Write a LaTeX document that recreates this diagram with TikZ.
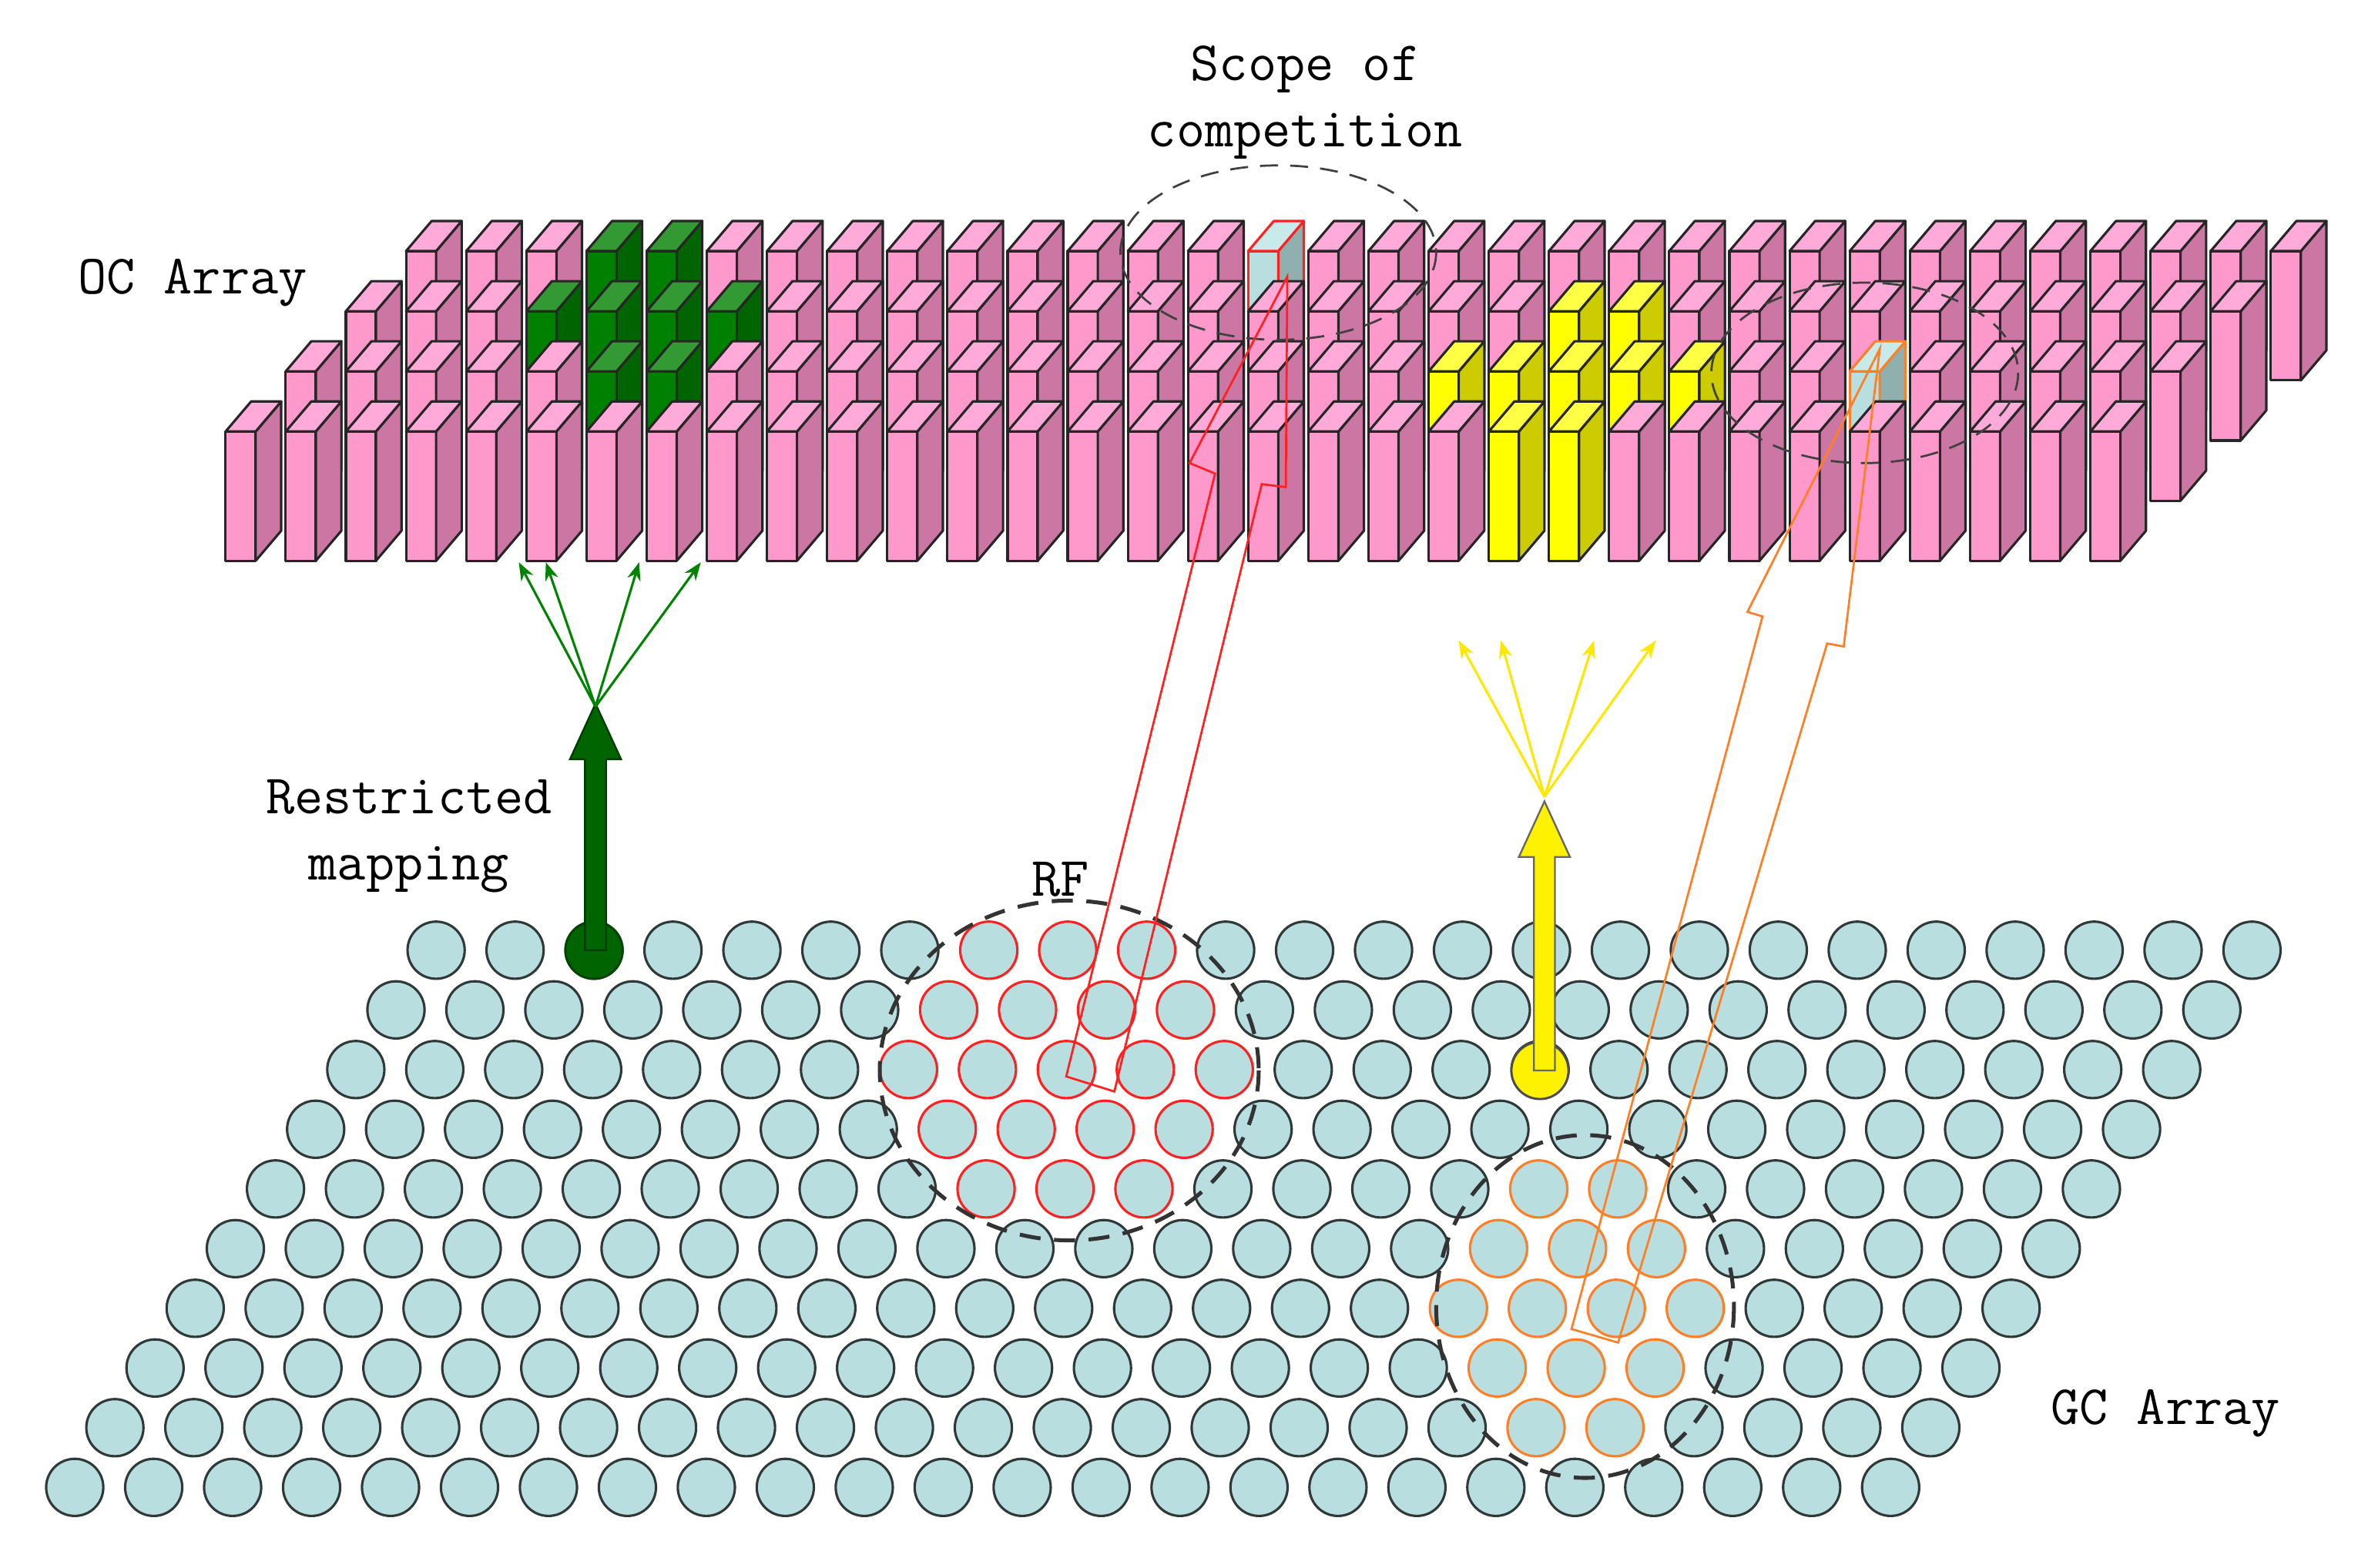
\documentclass[tikz,border=0pt]{standalone}
\usetikzlibrary{arrows.meta}
\definecolor{pkF}{HTML}{FF99CC}\definecolor{pkS}{HTML}{CC77A3}\definecolor{pkT}{HTML}{FFAAD8}
\definecolor{gnF}{HTML}{008000}\definecolor{gnS}{HTML}{006400}\definecolor{gnT}{HTML}{339933}
\definecolor{ylF}{HTML}{FFFF00}\definecolor{ylS}{HTML}{CCCC00}\definecolor{ylT}{HTML}{FFFF44}
\definecolor{blF}{HTML}{B8DEE0}\definecolor{blS}{HTML}{90B0B0}\definecolor{blT}{HTML}{C8EAEA}
\definecolor{cellC}{HTML}{B8DEE0}\definecolor{cellE}{HTML}{303838}
\definecolor{rfR}{HTML}{FF2020}\definecolor{rfO}{HTML}{FF7F27}
\definecolor{dgreen}{HTML}{006400}
\tikzset{
 lbl/.style={font=\ttfamily\fontsize{37}{44}\selectfont, align=center, inner sep=0pt},
 cell/.style={fill=cellC, draw=cellE, line width=1.6pt},
 scope/.style={draw=black!80, dashed, dash pattern=on 14pt off 9pt, line width=2.6pt},
 thinscope/.style={draw=black!75, dash pattern=on 12pt off 8pt, line width=1.4pt},
}
\begin{document}
\begin{tikzpicture}[x=1pt,y=-1pt]
\useasboundingbox (0,0) rectangle (1568,1042.5);
% GC array
\foreach \k in {0,...,9}{
 \foreach \j in {0,...,23}{
  \pgfmathsetmacro\cx{290-26.7*\k+52.5*\j}
  \pgfmathsetmacro\cy{632+39.7*\k}
  \pgfmathsetmacro\dr{veclen(\cx-709.1,\cy-711.4)}
  \pgfmathsetmacro\dor{veclen(\cx-1048.5,\cy-870.2)}
  \pgfmathtruncatemacro\kind{\dr<110 ? 1 : (\dor<90 ? 2 : 0)}
  \ifcase\kind
   \draw[cell] (\cx,\cy) circle (19);
  \or
   \draw[cell,draw=rfR] (\cx,\cy) circle (19);
  \or
   \draw[cell,draw=rfO] (\cx,\cy) circle (19);
  \fi
 }}
\draw[scope] (711,712) ellipse (126 and 113);
\draw[scope] (1054,869) ellipse (99 and 114);
% dots and arrows
\draw[fill=dgreen,draw=dgreen!70!black,line width=1.5pt] (395,632) circle (19);
\draw[fill=yellow,draw=black!70,line width=1.5pt] (1024,712) circle (19);
\draw[fill=dgreen,draw=dgreen!60!black,line width=1.2pt]
 (389,632) -- (389,505) -- (379,505) -- (396,468) -- (413,505) -- (403,505) -- (403,632) -- cycle;
\draw[fill=yellow,draw=black!60,line width=1.2pt]
 (1020,712) -- (1020,570) -- (1010,570) -- (1027,533) -- (1044,570) -- (1034,570) -- (1034,712) -- cycle;
\coordinate (gf) at (396,470);
\foreach \tx in {345,363,425,466}{
 \draw[-{Stealth[length=12pt,width=9pt]},dgreen!80!green,line width=1.6pt] (gf) -- (\tx,374);}
\coordinate (yf) at (1027,530);
\foreach \tx in {970,998,1060,1101}{
 \draw[-{Stealth[length=12pt,width=9pt]},yellow!90!orange,line width=1.6pt] (yf) -- (\tx,426);}
% OC array bars
\foreach \r in {3,2,1,0}{
 \foreach \i in {0,...,31}{
  \pgfmathtruncatemacro\c{\i+\r}
  \pgfmathtruncatemacro\kind{((\r==3&&\c>=6&&\c<=7)||(\r==2&&\c>=5&&\c<=8)||(\r==1&&\c>=6&&\c<=7)) ? 1 :
   (((\r==2&&\c>=22&&\c<=23)||(\r==1&&\c>=20&&\c<=24)||(\r==0&&\c>=21&&\c<=22)) ? 2 :
   ((\r==3&&\c==17) ? 3 : ((\r==1&&\c==27) ? 4 : 0)))}
  \ifcase\kind \def\cf{pkF}\def\cs{pkS}\def\ct{pkT}\def\ce{black!85}
  \or \def\cf{gnF}\def\cs{gnS}\def\ct{gnT}\def\ce{black!85}
  \or \def\cf{ylF}\def\cs{ylS}\def\ct{ylT}\def\ce{black!85}
  \or \def\cf{blF}\def\cs{blS}\def\ct{blT}\def\ce{rfR}
  \or \def\cf{blF}\def\cs{blS}\def\ct{blT}\def\ce{rfO}
  \fi
  \pgfmathsetmacro\xa{150+40*\c}
  \pgfmathsetmacro\xb{\xa+20}
  \pgfmathsetmacro\xc{\xa+37}
  \pgfmathsetmacro\xd{\xa+17}
  \pgfmathsetmacro\ya{287-40*\r}
  \pgfmathsetmacro\yb{373-40*\r}
  \pgfmathsetmacro\yc{\ya-20}
  \pgfmathsetmacro\yd{\yb-20}
  \draw[fill=\cf,draw=\ce,line width=1.6pt,line join=round] (\xa,\ya) rectangle (\xb,\yb);
  \draw[fill=\cs,draw=\ce,line width=1.6pt,line join=round] (\xb,\ya) -- (\xc,\yc) -- (\xc,\yd) -- (\xb,\yb) -- cycle;
  \draw[fill=\ct,draw=\ce,line width=1.6pt,line join=round] (\xa,\ya) -- (\xd,\yc) -- (\xc,\yc) -- (\xb,\ya) -- cycle;
 }}
% scope of competition ellipses
\draw[thinscope] (850,168) ellipse (105 and 58);
\draw[thinscope] (1240,248) ellipse (102 and 60);
% hollow arrows
\draw[rfR,line width=1.4pt,line join=miter]
 (709,716) -- (808,315) -- (791,308) -- (856,184) -- (855,324) -- (839,322) -- (741,726) -- cycle;
\draw[rfO,line width=1.4pt,line join=miter]
 (1045,884) -- (1172,410) -- (1162,407) -- (1250,232) -- (1226,430) -- (1215,428) -- (1076,893) -- cycle;
% labels
\node[lbl] (oc) at (128,188) {OC Array};
\node[lbl] (sc) at (868,68) {Scope of\\competition};
\node[lbl] (rm) at (272,556) {Restricted\\mapping};
\node[lbl] (rf) at (705,585) {RF};
\node[lbl] (gc) at (1440,940) {GC Array};
\end{tikzpicture}
\end{document}
